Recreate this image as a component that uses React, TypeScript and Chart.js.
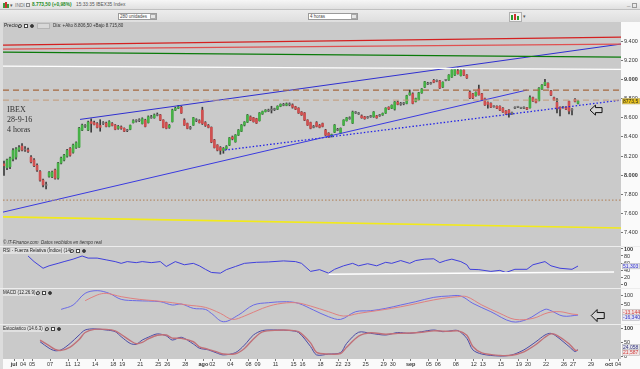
import React, { useEffect, useRef } from "react";
import { Chart, registerables } from "chart.js";

Chart.register(...registerables);

const FONT = '"Liberation Sans", Arial, sans-serif';
const PLOT_BG = "#cacaca";
const UP = "#46b046";
const DOWN = "#d05050";
const FLAT = "#777777";

// ---- 4h candles (IBEX 35), 3 per trading day, 30 jun -> 28 sep 2016 ----
const OPEN = [
  8120,8080,8090,8170,8190,8265,8305,8275,8265,8190,8160,8105,
  8040,7950,7905,7990,7985,8055,7972,8128,8160,8200,8280,8240,
  8290,8295,8472,8510,8472,8560,8550,8540,8520,8540,8545,8510,
  8540,8524,8490,8505,8490,8465,8480,8550,8570,8570,8540,8576,
  8550,8610,8600,8630,8630,8576,8550,8500,8560,8680,8700,8710,
  8576,8540,8500,8524,8580,8570,8680,8550,8520,8500,8368,8316,
  8290,8260,8280,8316,8400,8350,8420,8460,8524,8555,8610,8600,
  8590,8570,8640,8665,8680,8680,8690,8690,8720,8740,8730,8745,
  8735,8715,8700,8660,8650,8576,8550,8500,8550,8520,8540,8472,
  8440,8410,8450,8480,8440,8524,8570,8600,8545,8660,8650,8620,
  8610,8600,8620,8610,8620,8620,8630,8650,8710,8700,8690,8764,
  8745,8745,8750,8840,8850,8770,8790,8860,8920,8960,8955,8990,
  8980,8985,8920,8990,8993,9024,9045,9090,9040,9095,9045,8868,
  8850,8830,8900,8850,8800,8760,8750,8720,8720,8720,8700,8670,
  8680,8650,8710,8710,8705,8710,8705,8705,8810,8790,8780,8900,
  8940,8960,8880,8810,8760,8710,8715,8710,8770,8690,8790,8750,
];
const HIGH = [
  8150,8170,8190,8280,8290,8310,8330,8300,8285,8205,8175,8120,
  8050,7960,7930,8040,8045,8065,8135,8190,8220,8270,8290,8325,
  8350,8500,8535,8530,8565,8590,8565,8550,8580,8560,8555,8570,
  8550,8530,8520,8515,8495,8480,8525,8580,8580,8590,8600,8585,
  8620,8625,8640,8650,8635,8580,8555,8530,8690,8710,8730,8720,
  8590,8545,8510,8605,8590,8580,8710,8560,8530,8505,8375,8320,
  8300,8290,8310,8395,8410,8425,8478,8530,8560,8635,8620,8605,
  8595,8655,8670,8685,8690,8720,8700,8725,8745,8750,8755,8755,
  8745,8720,8705,8665,8655,8580,8555,8520,8560,8530,8545,8480,
  8445,8430,8530,8490,8495,8580,8605,8610,8670,8665,8655,8630,
  8615,8615,8625,8665,8625,8635,8650,8705,8715,8735,8770,8775,
  8760,8760,8835,8890,8860,8805,8865,8905,8980,8970,8970,9000,
  8995,8990,8975,9000,9050,9100,9112,9118,9100,9100,9050,8880,
  8855,8870,8940,8855,8805,8765,8755,8725,8725,8725,8705,8675,
  8685,8660,8715,8720,8710,8715,8710,8830,8815,8795,8915,8945,
  9000,8965,8885,8815,8800,8715,8720,8715,8775,8695,8800,8780,
];
const LOW = [
  8000,8060,8070,8150,8170,8250,8255,8250,8240,8130,8090,8040,
  7940,7880,7860,7980,7975,7960,7960,8120,8150,8190,8200,8230,
  8280,8290,8465,8500,8465,8450,8525,8495,8460,8530,8505,8505,
  8515,8475,8480,8480,8455,8455,8475,8545,8555,8560,8535,8505,
  8545,8595,8595,8620,8570,8495,8485,8490,8555,8675,8695,8645,
  8520,8485,8480,8520,8560,8545,8530,8510,8495,8340,8285,8255,
  8220,8230,8270,8310,8370,8345,8415,8455,8515,8550,8570,8555,
  8540,8565,8635,8660,8665,8650,8675,8685,8715,8725,8725,8725,
  8700,8685,8645,8625,8570,8520,8485,8495,8505,8495,8505,8415,
  8395,8400,8445,8465,8435,8520,8565,8585,8540,8645,8635,8595,
  8585,8595,8605,8605,8595,8615,8625,8645,8685,8695,8680,8735,
  8730,8735,8745,8835,8745,8765,8785,8855,8915,8945,8950,8965,
  8975,8905,8915,8985,8990,9020,9040,9055,9035,9040,9010,8800,
  8800,8825,8835,8780,8730,8700,8705,8710,8695,8675,8655,8635,
  8607,8635,8695,8705,8695,8695,8685,8700,8770,8755,8775,8895,
  8935,8910,8830,8780,8650,8620,8700,8685,8640,8630,8765,8745,
];
const CLOSE = [
  8100,8160,8180,8260,8275,8290,8264,8265,8250,8140,8100,8055,
  7950,7900,7895,8030,8035,7970,8128,8180,8211,8260,8210,8316,
  8340,8493,8524,8520,8555,8540,8530,8500,8500,8550,8510,8560,
  8520,8480,8510,8490,8460,8470,8520,8570,8565,8580,8590,8510,
  8610,8600,8630,8625,8576,8500,8490,8520,8680,8700,8715,8650,
  8524,8490,8490,8600,8570,8550,8540,8520,8500,8347,8290,8263,
  8260,8280,8300,8390,8380,8420,8472,8524,8555,8628,8576,8560,
  8545,8650,8665,8680,8670,8690,8685,8720,8740,8730,8745,8735,
  8710,8690,8650,8630,8576,8524,8490,8510,8510,8500,8510,8420,
  8400,8425,8524,8470,8490,8576,8600,8590,8660,8650,8640,8600,
  8590,8610,8610,8660,8600,8630,8645,8700,8690,8730,8765,8740,
  8740,8750,8830,8860,8750,8800,8860,8900,8975,8950,8965,8970,
  8990,8910,8970,8995,9045,9097,9108,9060,9095,9045,9015,8806,
  8806,8865,8840,8784,8733,8740,8710,8715,8700,8680,8660,8640,
  8650,8645,8700,8715,8700,8700,8690,8810,8775,8760,8909,8940,
  8970,8915,8836,8784,8700,8690,8705,8690,8670,8680,8770,8773.5,
];

// ---- x axis: trading-day index (30 jun = 0) and labels ----
const DAY_IDX = [1,2,3,5,7,8,10,12,13,15,17,18,20,22,23,25,27,28,30,32,33,35,37,38,40,42,43,45,47,48,50,52,53,55,57,58,60,62,63,65,67,68];
const DAY_LBL = ["jul","04","05","07","11","12","14","18","19","21","25","26","28","ago","02","04","08","09","11","15","16","18","22","23","25","29","30","sep","05","06","08","12","13","15","19","20","22","26","27","29","oct","04"];
const MONTHS = ["jul", "ago", "sep", "oct"];

// ---- price axis ticks ----
const PRICE_TICKS = [7400,7600,7800,8000,8200,8400,8600,8800,9000,9200,9400];

const XMIN = -1 / 3;
const XMAX = 205.3;

// ---- drawn lines on the price panel (candle index, price) ----
const RED_HI = [[XMIN, 9357], [XMAX, 9441]];
const RED_LO = [[XMIN, 9316], [XMAX, 9368]];
const GREEN_LINE = [[XMIN, 9284], [XMAX, 9232]];
const WHITE_LINE = [[XMIN, 9138], [XMAX, 9104]];
const BLUE_UPPER = [[25.3, 8583], [XMAX, 9368]];
const BLUE_LOWER = [[XMIN, 7617], [174, 8889]];
const BLUE_DOTTED = [[73.5, 8263], [XMAX, 8784]];
const RESIST_DASH = 8889;
const RESIST_DASH2 = 8784;
const SUPPORT_DOT = 7741;
const YELLOW_LINE = [[XMIN, 7567], [XMAX, 7451]];

// ---- RSI (14) ----
const RSI_IDX = [8,10,13,15,18,20,23,26,28,31,34,37,39,41,44,46,49,52,54,57,60,63,65,67,69,72,74,77,80,84,88,93,97,99,102,105,108,110,113,116,118,121,124,127,129,132,135,137,140,143,145,147,149,152,154,155,158,162,165,167,170,174,176,180,182,185,189,191];
const RSI_VAL = [80,64,45,52,59,64,71,80,74,74,69,64,59,64,61,64,61,64,50,64,55,59,52,42,33,31,41,50,59,62,63,66,64,59,36,41,31,42,52,59,52,58,52,62,59,67,59,67,71,72,61,67,71,64,55,42,41,36,39,33,42,42,55,64,52,45,42,51.303];
const RSI_TREND = [[108, 28], [203, 34]];
const RSI_TICKS = [0, 20, 40, 60, 80, 100];

// ---- MACD (12,26,9) ----
const MACD_IDX = [19,23,27,31,35,39,44,52,56,59,63,67,69,73,78,83,88,94,98,103,108,112,117,122,127,132,137,143,148,152,156,162,169,174,180,182,186,191];
const MACD_VAL = [18,44,114,130,114,78,70,64,44,50,24,18,-6,-56,-16,44,58,64,54,14,-26,-42,4,10,24,44,64,90,98,98,54,4,-56,-42,18,10,-22,-16.34];
const SIG_IDX = [27,31,34,39,45,50,56,61,67,72,76,80,86,91,97,102,108,113,118,124,129,135,140,146,151,154,159,165,170,176,181,185,189,191];
const SIG_VAL = [70,104,114,94,78,70,58,44,30,-6,-42,-22,24,50,58,38,4,-22,-6,10,24,44,64,84,94,94,44,-6,-42,-36,-2,4,-10,-13.144];
const MACD_TICKS = [50, 100];

// ---- Estocástico (14,6,3) ----
const STO_IDX = [12,15,17,19,22,25,27,30,34,37,39,42,44,46,48,51,54,56,59,63,65,68,71,73,77,80,83,86,91,95,98,102,104,108,112,114,118,122,127,131,135,139,143,146,148,151,154,156,159,165,169,173,177,180,182,184,188,190,191];
const STO_K = [52,29,20,23,46,76,94,98,94,88,70,46,43,58,68,80,73,58,68,44,29,23,11,5,13,40,76,92,94,92,85,35,5,8,13,46,86,82,76,85,82,88,94,88,90,92,64,23,8,1,5,23,52,76,82,70,35,17,24.058];
const STO_D = [58,38,25,21,33,60,85,96,96,91,78,56,45,50,62,75,76,65,64,52,34,25,15,8,9,28,62,87,93,93,88,48,14,8,10,32,72,84,79,82,83,86,91,90,89,91,75,35,12,3,4,16,42,68,80,75,45,22,21.587];
const STO_TICKS = [0, 50, 100];

// ---- annotation arrows (candle index, value) ----
const PRICE_ARROW = { x: 195, y: 8680 };
const MACD_ARROW = { x: 195.4, y: -19 };

const fmtThousands = (v: number) => {
  const s = Math.round(v).toString();
  return s.length > 3 ? s.slice(0, -3) + "." + s.slice(-3) : s;
};
const fmtComma = (v: number, d: number) => v.toFixed(d).replace(".", ",");
const pts = (idx: number[], val: number[]) => idx.map((x, k) => ({ x, y: val[k] }));
const seg = (p: number[][]) => p.map(([x, y]) => ({ x, y }));
const flat = (v: number) => [{ x: XMIN, y: v }, { x: XMAX, y: v }];

const bgPlugin = {
  id: "bgfill",
  beforeDraw(chart: any) {
    const { ctx, chartArea: a } = chart;
    ctx.save();
    ctx.fillStyle = "#fafafa";
    ctx.fillRect(0, 0, chart.width, chart.height);
    ctx.fillStyle = "#dcdcdc";
    ctx.fillRect(0, 0, a.left, chart.height);
    ctx.fillStyle = PLOT_BG;
    ctx.fillRect(a.left, a.top, a.right - a.left, a.bottom - a.top);
    ctx.restore();
  },
};

type Tag = { value: number; text: string; color: string; bg: string };
function tagPlugin(tags: Tag[]) {
  return {
    id: "tags",
    afterDraw(chart: any) {
      const { ctx, chartArea: a } = chart;
      const y = chart.scales.y;
      const list = tags.map((t) => ({ ...t, py: y.getPixelForValue(t.value) }));
      if (list.length === 2) {
        list.sort((p, q) => q.value - p.value);
        const m = (list[0].py + list[1].py) / 2;
        if (Math.abs(list[0].py - list[1].py) < 5.5) {
          list[0].py = m - 2.8;
          list[1].py = m + 2.8;
        }
      }
      ctx.save();
      list.forEach((t) => {
        ctx.fillStyle = t.bg;
        ctx.fillRect(a.right + 1, t.py - 3, chart.width - a.right - 1, 6);
        ctx.strokeStyle = "#b0b0b0";
        ctx.lineWidth = 0.5;
        ctx.strokeRect(a.right + 1.5, t.py - 2.8, chart.width - a.right - 2, 5.6);
        ctx.fillStyle = t.color;
        ctx.font = `5px ${FONT}`;
        ctx.textBaseline = "middle";
        ctx.textAlign = "left";
        ctx.fillText(t.text, a.right + 2, t.py + 0.3);
      });
      ctx.restore();
    },
  };
}

function arrowPlugin(p: { x: number; y: number }, w: number, h: number) {
  return {
    id: "arrow",
    afterDatasetsDraw(chart: any) {
      const { ctx } = chart;
      const x0 = chart.scales.x.getPixelForValue(p.x);
      const y0 = chart.scales.y.getPixelForValue(p.y);
      const hw = w * 0.45;
      ctx.save();
      ctx.beginPath();
      ctx.moveTo(x0, y0);
      ctx.lineTo(x0 + hw, y0 - h / 2);
      ctx.lineTo(x0 + hw, y0 - h / 4);
      ctx.lineTo(x0 + w, y0 - h / 4);
      ctx.lineTo(x0 + w, y0 + h / 4);
      ctx.lineTo(x0 + hw, y0 + h / 4);
      ctx.lineTo(x0 + hw, y0 + h / 2);
      ctx.closePath();
      ctx.fillStyle = "#d4d4d4";
      ctx.fill();
      ctx.strokeStyle = "#111";
      ctx.lineWidth = 1;
      ctx.stroke();
      ctx.restore();
    },
  };
}

const hiddenX = () => ({
  type: "linear",
  min: XMIN,
  max: XMAX,
  offset: false,
  display: false,
});

const rightY = (min: number, max: number, ticks: number[], boldSet: number[], fmt: (v: number) => string) => ({
  type: "linear",
  position: "right",
  min,
  max,
  afterBuildTicks: (ax: any) => {
    ax.ticks = ticks.map((v) => ({ value: v }));
  },
  afterFit: (ax: any) => {
    ax.width = 19;
    ax.paddingTop = 0;
    ax.paddingBottom = 0;
  },
  grid: { display: true, drawOnChartArea: false, drawTicks: true, tickLength: 2, color: "#777" },
  border: { display: false },
  ticks: {
    autoSkip: false,
    padding: 1,
    color: "#333",
    font: (c: any) => ({
      family: FONT,
      size: 5.5,
      weight: c.tick && boldSet.includes(c.tick.value) ? "bold" : "normal",
    }),
    callback: (v: any) => fmt(Number(v)),
  },
});

const baseOptions = (scales: any) => ({
  responsive: false,
  animation: false,
  events: [],
  layout: { padding: { left: 3, right: 0, top: 0, bottom: 0 } },
  plugins: { legend: { display: false }, tooltip: { enabled: false } },
  scales,
});

const lineDs = (data: any[], color: string, width: number, extra: any = {}) => ({
  type: "line",
  data,
  borderColor: color,
  borderWidth: width,
  pointRadius: 0,
  fill: false,
  tension: 0,
  order: 0,
  ...extra,
});

export default function App() {
  const mainRef = useRef<HTMLCanvasElement>(null);
  const rsiRef = useRef<HTMLCanvasElement>(null);
  const macdRef = useRef<HTMLCanvasElement>(null);
  const stoRef = useRef<HTMLCanvasElement>(null);

  useEffect(() => {
    const charts: Chart[] = [];
    const bodyColors = CLOSE.map((c, i) =>
      Math.abs(c - OPEN[i]) <= 10 ? FLAT : c > OPEN[i] ? UP : DOWN
    );

    charts.push(
      new Chart(mainRef.current as HTMLCanvasElement, {
        type: "bar",
        data: {
          datasets: [
            lineDs(seg(RED_HI), "#d42020", 1.3),
            lineDs(seg(RED_LO), "#e05050", 1.3),
            lineDs(seg(GREEN_LINE), "#0a7a0a", 1.4),
            lineDs(seg(WHITE_LINE), "#ffffff", 1.4),
            lineDs(flat(RESIST_DASH), "#a5683f", 1.3, { borderDash: [6, 4] }),
            lineDs(flat(RESIST_DASH2), "#c39a78", 1, { borderDash: [6, 4] }),
            lineDs(flat(SUPPORT_DOT), "#b58c6a", 1.3, { borderDash: [1.5, 2] }),
            lineDs(seg(YELLOW_LINE), "#f2ea1a", 1.6),
            lineDs(seg(BLUE_UPPER), "#2f2fd0", 1),
            lineDs(seg(BLUE_LOWER), "#3a3ae0", 1),
            lineDs(seg(BLUE_DOTTED), "#2424e6", 1.3, { borderDash: [1.5, 2] }),
            {
              type: "bar",
              data: CLOSE.map((_, i) => ({ x: i, y: [LOW[i], HIGH[i]] })),
              backgroundColor: "#3c3c3c",
              barThickness: 1,
              grouped: false,
              order: 3,
            },
            {
              type: "bar",
              data: CLOSE.map((c, i) => ({ x: i, y: [OPEN[i], c] })),
              backgroundColor: bodyColors,
              barThickness: 2,
              minBarLength: 1,
              grouped: false,
              order: 2,
            },
          ] as any,
        },
        options: baseOptions({
          x: hiddenX(),
          y: rightY(7264, 9598, PRICE_TICKS, [8000, 9000], fmtThousands),
        }) as any,
        plugins: [
          bgPlugin,
          arrowPlugin(PRICE_ARROW, 12, 10),
          tagPlugin([
            { value: CLOSE[CLOSE.length - 1], text: fmtComma(CLOSE[CLOSE.length - 1], 1), color: "#222", bg: "#e9c21c" },
          ]),
        ],
      })
    );

    charts.push(
      new Chart(rsiRef.current as HTMLCanvasElement, {
        type: "line",
        data: {
          datasets: [
            lineDs(seg(RSI_TREND), "#ffffff", 1.5),
            lineDs(pts(RSI_IDX, RSI_VAL), "#4040dc", 1),
          ] as any,
        },
        options: baseOptions({
          x: hiddenX(),
          y: rightY(-11.4, 105.7, RSI_TICKS, [0, 100], (v) => String(v)),
        }) as any,
        plugins: [
          bgPlugin,
          tagPlugin([{ value: RSI_VAL[RSI_VAL.length - 1], text: fmtComma(RSI_VAL[RSI_VAL.length - 1], 3), color: "#3030c8", bg: "#e4e4f4" }]),
        ],
      })
    );

    charts.push(
      new Chart(macdRef.current as HTMLCanvasElement, {
        type: "line",
        data: {
          datasets: [
            lineDs(pts(SIG_IDX, SIG_VAL), "#e08080", 1, { tension: 0.35 }),
            lineDs(pts(MACD_IDX, MACD_VAL), "#6a6ae6", 1, { tension: 0.35 }),
          ] as any,
        },
        options: baseOptions({
          x: hiddenX(),
          y: rightY(-69.6, 140, MACD_TICKS, [], (v) => String(v)),
        }) as any,
        plugins: [
          bgPlugin,
          arrowPlugin(MACD_ARROW, 13, 12),
          tagPlugin([
            { value: SIG_VAL[SIG_VAL.length - 1], text: fmtComma(SIG_VAL[SIG_VAL.length - 1], 3), color: "#d04040", bg: "#f2e4e4" },
            { value: MACD_VAL[MACD_VAL.length - 1], text: fmtComma(MACD_VAL[MACD_VAL.length - 1], 3), color: "#3434c8", bg: "#e4e4f2" },
          ]),
        ],
      })
    );

    charts.push(
      new Chart(stoRef.current as HTMLCanvasElement, {
        type: "line",
        data: {
          datasets: [
            lineDs(pts(STO_IDX, STO_D), "#c07078", 1.4, { tension: 0.3 }),
            lineDs(pts(STO_IDX, STO_K), "#4a4aa8", 1, { tension: 0.3 }),
          ] as any,
        },
        options: baseOptions({
          x: {
            type: "linear",
            min: XMIN,
            max: XMAX,
            offset: false,
            afterBuildTicks: (ax: any) => {
              ax.ticks = DAY_IDX.map((d) => ({ value: d * 3 + 1 / 3 }));
            },
            afterFit: (ax: any) => {
              ax.height = 10;
              ax.paddingLeft = 0;
              ax.paddingRight = 0;
            },
            grid: { display: true, drawOnChartArea: false, drawTicks: true, tickLength: 2, color: "#777" },
            border: { display: false },
            ticks: {
              autoSkip: false,
              maxRotation: 0,
              minRotation: 0,
              padding: 0,
              color: "#333",
              font: (c: any) => ({
                family: FONT,
                size: 5.5,
                weight: MONTHS.includes(DAY_LBL[c.index]) ? "bold" : "normal",
              }),
              callback: (_v: any, i: number) => DAY_LBL[i],
            },
          },
          y: rightY(-9.6, 111.8, STO_TICKS, [100], (v) => String(v)),
        }) as any,
        plugins: [
          bgPlugin,
          tagPlugin([
            { value: STO_K[STO_K.length - 1], text: fmtComma(STO_K[STO_K.length - 1], 3), color: "#30307a", bg: "#e8e8ee" },
            { value: STO_D[STO_D.length - 1], text: fmtComma(STO_D[STO_D.length - 1], 3), color: "#d04040", bg: "#f2e4e4" },
          ]),
        ],
      })
    );

    return () => charts.forEach((c) => c.destroy());
  }, []);

  const txt = (left: number, top: number, size: number, extra: any = {}) => ({
    position: "absolute" as const,
    left,
    top,
    fontSize: size,
    lineHeight: `${size + 1}px`,
    whiteSpace: "nowrap" as const,
    fontFamily: FONT,
    color: "#333",
    ...extra,
  });
  const icon = (left: number, top: number, extra: any = {}) => ({
    position: "absolute" as const,
    left,
    top,
    width: 4,
    height: 4,
    border: "1px solid #444",
    boxSizing: "border-box" as const,
    ...extra,
  });
  const abs = (left: number, top: number, width: number, height: number, extra: any = {}) => ({
    position: "absolute" as const,
    left,
    top,
    width,
    height,
    ...extra,
  });

  const panelIcons = (left: number, top: number) => (
    <>
      <div style={icon(left, top, { borderRadius: "50% 50% 50% 0", width: 4, height: 4 })} />
      <div style={icon(left + 6, top, { background: "#fff" })} />
      <div style={icon(left + 12, top, { borderRadius: "50%", background: "#333" })} />
    </>
  );

  return (
    <div style={abs(0, 0, 640, 369, { overflow: "hidden", background: "#ededed", fontFamily: FONT })}>
      {/* header row 1 */}
      <div style={abs(0, 0, 640, 10, { background: "linear-gradient(#f6f6f6, #e0e0e0)", borderBottom: "1px solid #c0c0c0", boxSizing: "border-box" })} />
      <div style={abs(3, 3, 1.5, 5, { background: "#3a9a3a" })} />
      <div style={abs(5, 2, 1.5, 6, { background: "#d03030" })} />
      <div style={abs(7, 4, 1.5, 4, { background: "#3a9a3a" })} />
      <div style={txt(10, 2, 5, { color: "#555" })}>▾</div>
      <div style={txt(15, 2, 5, { color: "#777" })}>INDI</div>
      <div style={icon(26, 3, { border: "1px solid #888", width: 4, height: 4 })} />
      <div style={txt(32, 2, 4.8, { color: "#1e8c1e", fontWeight: "bold" })}>8.773,50 (+0,98%)</div>
      <div style={txt(76, 2, 4.8, { color: "#555" })}>15:33:35 IBEX35 Index</div>
      <div style={txt(627, 1, 6, { color: "#777" })}>_</div>
      <div style={icon(632, 3, { border: "1px solid #999", width: 5, height: 5 })} />

      {/* header row 2 */}
      <div style={abs(0, 10, 640, 12, { background: "linear-gradient(#ececec, #dedede)" })} />
      <div style={abs(118, 13, 39, 7, { background: "#fff", border: "1px solid #9a9a9a", boxSizing: "border-box" })} />
      <div style={txt(120, 13.5, 4.5, { color: "#444" })}>280 unidades</div>
      <div style={abs(150, 14, 6, 5, { background: "#e6e6e6", border: "1px solid #aaa", boxSizing: "border-box" })} />
      <div style={abs(308, 13, 50, 7, { background: "#fff", border: "1px solid #9a9a9a", boxSizing: "border-box" })} />
      <div style={txt(310, 13.5, 4.5, { color: "#444" })}>4 horas</div>
      <div style={abs(351, 14, 6, 5, { background: "#e6e6e6", border: "1px solid #aaa", boxSizing: "border-box" })} />
      <div style={abs(509, 12, 13, 10, { background: "#f2f2f2", border: "1px solid #b0b0b0", boxSizing: "border-box" })} />
      <div style={abs(511, 15, 2, 5, { background: "#2c9a2c" })} />
      <div style={abs(514, 14, 2, 6, { background: "#d03030" })} />
      <div style={abs(517, 16, 2, 4, { background: "#2c9a2c" })} />
      <div style={txt(523, 13, 5, { color: "#555" })}>▾</div>

      {/* panels */}
      <canvas ref={mainRef} width={640} height={224} style={abs(0, 22, 640, 224)} />
      <canvas ref={rsiRef} width={640} height={41} style={abs(0, 247, 640, 41)} />
      <canvas ref={macdRef} width={640} height={35} style={abs(0, 289, 640, 35)} />
      <canvas ref={stoRef} width={640} height={44} style={abs(0, 325, 640, 44)} />

      {/* price panel labels */}
      <div style={txt(4, 23, 4.8, { color: "#222" })}>Precio</div>
      {panelIcons(18, 24)}
      <div style={abs(37, 23, 13, 6, { background: "#d8d8d8", border: "1px solid #b5b5b5", boxSizing: "border-box" })} />
      <div style={txt(53, 23, 4.5, { color: "#333" })}>Día: +Alto 8.806,50 +Bajo 8.715,80</div>
      <div style={txt(7, 105, 8, { fontFamily: '"Liberation Serif", "DejaVu Serif", serif', color: "#333" })}>IBEX</div>
      <div style={txt(7, 115, 8, { fontFamily: '"Liberation Serif", "DejaVu Serif", serif', color: "#333" })}>28-9-16</div>
      <div style={txt(7, 125, 8, { fontFamily: '"Liberation Serif", "DejaVu Serif", serif', color: "#333" })}>4 horas</div>
      <div style={txt(3, 240, 4.5, { fontStyle: "italic", color: "#333" })}>© IT-Finance.com&nbsp; Datos recibidos en tiempo real</div>

      {/* indicator labels */}
      <div style={txt(3, 248, 4.5, { color: "#222", background: "rgba(226,226,226,0.9)", paddingRight: 1 })}>RSI - Fuerza Relativa (Índice) (14)</div>
      {panelIcons(70, 249)}
      <div style={txt(3, 290, 4.5, { color: "#222", background: "rgba(226,226,226,0.9)", paddingRight: 1 })}>MACD (12.26.9)</div>
      {panelIcons(36, 291)}
      <div style={txt(3, 326, 4.5, { color: "#222", background: "rgba(226,226,226,0.9)", paddingRight: 1 })}>Estocástico (14.6.3)</div>
      {panelIcons(45, 327)}
    </div>
  );
}
